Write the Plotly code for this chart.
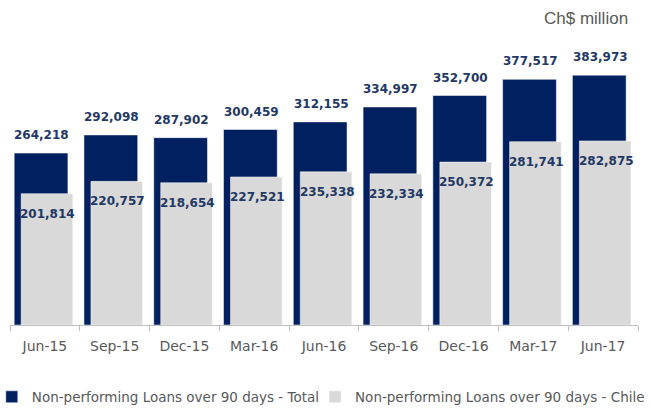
import plotly.graph_objects as go

categories = ["Jun-15", "Sep-15", "Dec-15", "Mar-16", "Jun-16", "Sep-16", "Dec-16", "Mar-17", "Jun-17"]
total_npl = [264218, 292098, 287902, 300459, 312155, 334997, 352700, 377517, 383973]
chile_npl = [201814, 220757, 218654, 227521, 235338, 232334, 250372, 281741, 282875]

NAVY = "#002060"
LABEL = "#1F3864"
GRAY_BAR = "#D9D9D9"
TXT = "#595959"

fig = go.Figure()
fig.add_trace(go.Bar(
    x=categories, y=total_npl, name="Non-performing Loans over 90 days - Total",
    marker=dict(color=NAVY, line=dict(color="white", width=0.5)),
    width=0.77, offset=-0.44, legend="legend",
))
fig.add_trace(go.Bar(
    x=categories, y=chile_npl, name="Non-performing Loans over 90 days - Chile",
    marker=dict(color=GRAY_BAR, line=dict(color="white", width=0.5)),
    width=0.74, offset=-0.34, legend="legend2",
))

label_font = dict(family="DejaVu Sans", size=12, color=LABEL, weight="bold")
annotations = []
for c, v in zip(categories, total_npl):
    annotations.append(dict(x=c, y=v, text=f"{v:,}", showarrow=False, yanchor="middle",
                            yshift=18, xshift=-3, font=label_font))
for c, v in zip(categories, chile_npl):
    annotations.append(dict(x=c, y=v, text=f"{v:,}", showarrow=False, yanchor="middle",
                            yshift=-20, xshift=3, font=label_font))
annotations.append(dict(x=1.0, y=1.0, xref="paper", yref="paper", xanchor="right", yanchor="middle",
                        xshift=-8, yshift=22, text="Ch$ million", showarrow=False,
                        font=dict(family="Liberation Sans", size=17, color=TXT)))

legend_font = dict(family="DejaVu Sans", size=13.5, color=TXT)
fig.update_layout(
    width=651, height=410,
    margin=dict(l=10, r=13, t=40, b=85, autoexpand=False),
    paper_bgcolor="white", plot_bgcolor="white",
    barmode="overlay",
    showlegend=True,
    legend=dict(orientation="h", x=-0.029, xanchor="left", y=-0.2526, yanchor="middle",
                font=legend_font, itemclick=False, bgcolor="rgba(0,0,0,0)"),
    legend2=dict(orientation="h", x=0.4857, xanchor="left", y=-0.2526, yanchor="middle",
                 font=legend_font, itemclick=False, bgcolor="rgba(0,0,0,0)"),
    xaxis=dict(type="category", range=[-0.5, 8.5], showline=True, linecolor="#BFBFBF", linewidth=1,
               ticks="outside", tickson="boundaries", ticklen=5, tickcolor="#BFBFBF",
               ticklabelstandoff=8,
               tickfont=dict(family="DejaVu Sans", size=14, color=TXT), showgrid=False),
    yaxis=dict(range=[0, 438000], visible=False, showgrid=False),
    annotations=annotations,
)

fig.write_html("out.html", config={"displayModeBar": False},
               post_script="document.body.style.margin='0';")
